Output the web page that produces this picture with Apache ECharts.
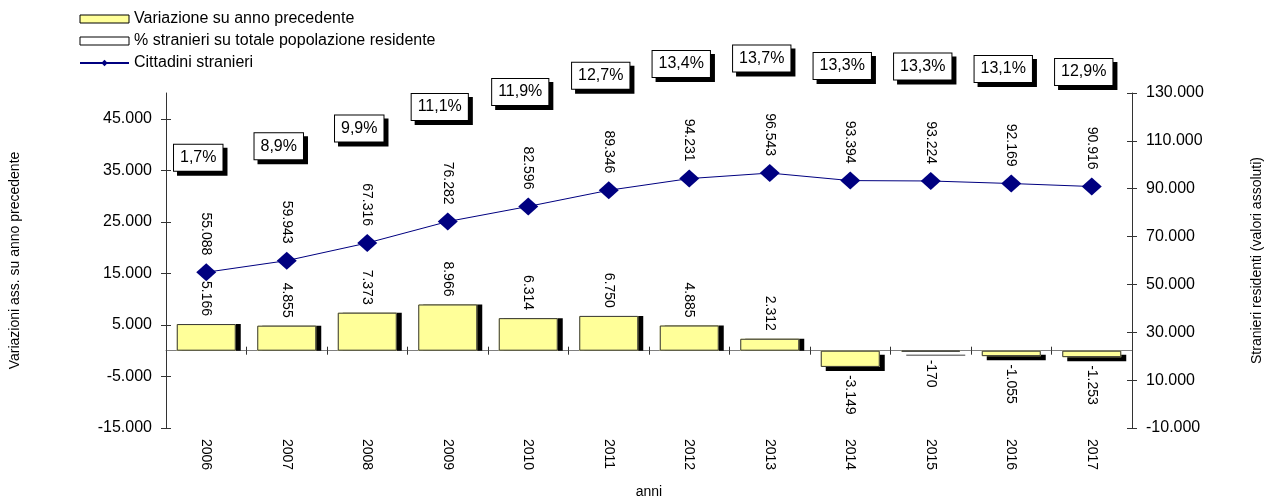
<!DOCTYPE html>
<html>
<head>
<meta charset="utf-8">
<script src="https://cdn.jsdelivr.net/npm/echarts@6/dist/echarts.min.js"></script>
<style>
html,body{margin:0;padding:0;background:#fff;}
#chart{width:1275px;height:504px;}
</style>
</head>
<body>
<div id="chart"></div>
<script>
const anni = ['2006','2007','2008','2009','2010','2011','2012','2013','2014','2015','2016','2017'];
const variazione = [5166, 4855, 7373, 8966, 6314, 6750, 4885, 2312, -3149, -170, -1055, -1253];
const stranieri = [55088, 59943, 67316, 76282, 82596, 89346, 94231, 96543, 93394, 93224, 92169, 90916];
const pctStranieri = [1.7, 8.9, 9.9, 11.1, 11.9, 12.7, 13.4, 13.7, 13.3, 13.3, 13.1, 12.9];
const leftTicks = [-15000, -5000, 5000, 15000, 25000, 35000, 45000];

const FONT = '"Liberation Sans", Arial, Helvetica, sans-serif';
function fmt(v){
  const s = String(Math.abs(Math.round(v))).replace(/\B(?=(\d{3})+(?!\d))/g, '.');
  return (v < 0 ? '-' : '') + s;
}
function fmtPct(v){ return v.toFixed(1).replace('.', ',') + '%'; }

const chart = echarts.init(document.getElementById('chart'), null, {renderer:'canvas'});

const barFillData = variazione.map(v => ({
  value: v,
  itemStyle: { shadowOffsetY: v < 0 ? 4 : 0 }
}));
const barEdgeData = variazione.map(v => ({
  value: v,
  label: v < 0 ? { position: 'bottom', align: 'left' } : {}
}));
const pctData = stranieri.map((v, i) => ({ value: v, pct: pctStranieri[i] }));

const axisCol = '#333';
const PCT_OFF = [-8, -101];
const pctLabelBase = {
  show: true, position: 'top', distance: 0, opacity: 1,
  fontSize: 16, fontFamily: FONT, lineHeight: 16,
  borderWidth: 1, padding: [5, 6],
  formatter: p => fmtPct(p.data.pct)
};

const option = {
  backgroundColor: '#fff',
  animation: false,
  textStyle: { fontFamily: FONT, color: '#000' },
  legend: {
    orient: 'vertical',
    left: 74,
    top: 6,
    itemGap: 6,
    itemWidth: 49,
    itemHeight: 8,
    textStyle: { fontFamily: FONT, fontSize: 16, color: '#000', lineHeight: 16 },
    selectedMode: false,
    data: [
      { name: 'Variazione su anno precedente', icon: 'rect',
        itemStyle: { color: '#FFFF99', borderColor: '#000', borderWidth: 1, opacity: 1 } },
      { name: '% stranieri su totale popolazione residente', icon: 'rect',
        itemStyle: { color: '#fff', borderColor: '#000', borderWidth: 1, opacity: 1 } },
      { name: 'Cittadini stranieri' }
    ]
  },
  grid: { left: 166, right: 143, top: 93, bottom: 74, containLabel: false },
  xAxis: [
    {
      type: 'category', data: anni, position: 'bottom',
      axisLine: { show: true, onZero: true, onZeroAxisIndex: 0, lineStyle: { color: '#808080', width: 1 } },
      axisTick: { show: true, inside: true, length: 4, lineStyle: { color: axisCol } },
      axisLabel: { show: false },
      splitLine: { show: false }
    },
    {
      type: 'category', data: anni, position: 'bottom',
      axisLine: { show: false, onZero: false },
      axisTick: { show: false },
      axisLabel: { show: true, rotate: -90, margin: 11, fontSize: 14, color: '#000', fontFamily: FONT },
      name: 'anni', nameLocation: 'middle', nameGap: 57,
      nameTextStyle: { fontSize: 14, color: '#000', fontFamily: FONT },
      splitLine: { show: false }
    },
    {
      type: 'category', data: anni, position: 'bottom',
      axisLine: { show: false, onZero: true, onZeroAxisIndex: 0 },
      axisTick: { show: true, length: 4, lineStyle: { color: axisCol } },
      axisLabel: { show: false },
      splitLine: { show: false }
    }
  ],
  yAxis: [
    {
      type: 'value', position: 'left', min: -15000, max: 50000, interval: 10000,
      axisLine: { show: true, lineStyle: { color: axisCol } },
      axisTick: { show: true, length: 5, customValues: leftTicks, lineStyle: { color: axisCol } },
      axisLabel: { show: true, customValues: leftTicks, margin: 14, fontSize: 16, color: '#000', fontFamily: FONT, formatter: v => fmt(v) },
      splitLine: { show: false },
      name: 'Variazioni ass. su anno precedente', nameLocation: 'middle', nameGap: 144, nameRotate: 90,
      nameTextStyle: { fontSize: 14, color: '#000', fontFamily: FONT }
    },
    {
      type: 'value', position: 'right', min: -10000, max: 130000, interval: 20000,
      axisLine: { show: true, lineStyle: { color: axisCol } },
      axisTick: { show: true, length: 5, lineStyle: { color: axisCol } },
      axisLabel: { show: true, margin: 14, fontSize: 16, color: '#000', fontFamily: FONT, formatter: v => fmt(v) },
      splitLine: { show: false },
      name: 'Stranieri residenti (valori assoluti)', nameLocation: 'middle', nameGap: 118, nameRotate: 90,
      nameTextStyle: { fontSize: 14, color: '#000', fontFamily: FONT }
    },
    {
      type: 'value', position: 'left', min: -15000, max: 50000, interval: 10000,
      axisLine: { show: false },
      axisTick: { show: true, inside: true, length: 5, customValues: leftTicks, lineStyle: { color: axisCol } },
      axisLabel: { show: false },
      splitLine: { show: false }
    },
    {
      type: 'value', position: 'right', min: -10000, max: 130000, interval: 20000,
      axisLine: { show: false },
      axisTick: { show: true, inside: true, length: 5, lineStyle: { color: axisCol } },
      axisLabel: { show: false },
      splitLine: { show: false }
    }
  ],
  series: [
    {
      name: 'Variazione su anno precedente',
      type: 'bar', xAxisIndex: 0, yAxisIndex: 0,
      barWidth: 59, barGap: '-100%',
      data: barFillData,
      itemStyle: { color: '#FFFF99', borderWidth: 0, shadowColor: '#000', shadowBlur: 0, shadowOffsetX: 5 },
      emphasis: { disabled: true },
      z: 2
    },
    {
      name: 'bordo barre',
      type: 'bar', xAxisIndex: 0, yAxisIndex: 0,
      barWidth: 59, barGap: '-100%',
      data: barEdgeData,
      itemStyle: { color: 'rgba(0,0,0,0)', borderColor: '#333', borderWidth: 1 },
      label: {
        show: true, position: 'top', rotate: -90, align: 'right', verticalAlign: 'middle', distance: 8,
        fontSize: 14, color: '#000', fontFamily: FONT, formatter: p => fmt(p.value)
      },
      emphasis: { disabled: true },
      z: 2
    },
    {
      name: 'ombra percentuali',
      type: 'scatter', xAxisIndex: 0, yAxisIndex: 1,
      data: pctData,
      symbol: 'circle', symbolSize: 1,
      itemStyle: { color: 'rgba(0,0,0,0)', opacity: 1 },
      label: Object.assign({}, pctLabelBase, {
        offset: [PCT_OFF[0] + 4, PCT_OFF[1] + 4],
        color: '#000', backgroundColor: '#000', borderColor: '#000'
      }),
      emphasis: { disabled: true },
      silent: true,
      z: 4
    },
    {
      name: '% stranieri su totale popolazione residente',
      type: 'scatter', xAxisIndex: 0, yAxisIndex: 1,
      data: pctData,
      symbol: 'circle', symbolSize: 1,
      itemStyle: { color: 'rgba(0,0,0,0)', opacity: 1 },
      label: Object.assign({}, pctLabelBase, {
        offset: PCT_OFF,
        color: '#000', backgroundColor: '#ffffff', borderColor: '#000'
      }),
      emphasis: { disabled: true },
      z: 5
    },
    {
      name: 'Cittadini stranieri',
      type: 'line', xAxisIndex: 0, yAxisIndex: 1,
      data: stranieri,
      symbol: 'diamond', symbolSize: [20, 18],
      color: '#000080',
      itemStyle: { color: '#000080' },
      lineStyle: { color: '#000080', width: 1 },
      label: {
        show: true, position: 'top', rotate: -90, align: 'right', verticalAlign: 'middle', distance: 8,
        fontSize: 14, color: '#000', fontFamily: FONT, formatter: p => fmt(p.value)
      },
      emphasis: { disabled: true },
      z: 3
    }
  ]
};
chart.setOption(option);
</script>
</body>
</html>
